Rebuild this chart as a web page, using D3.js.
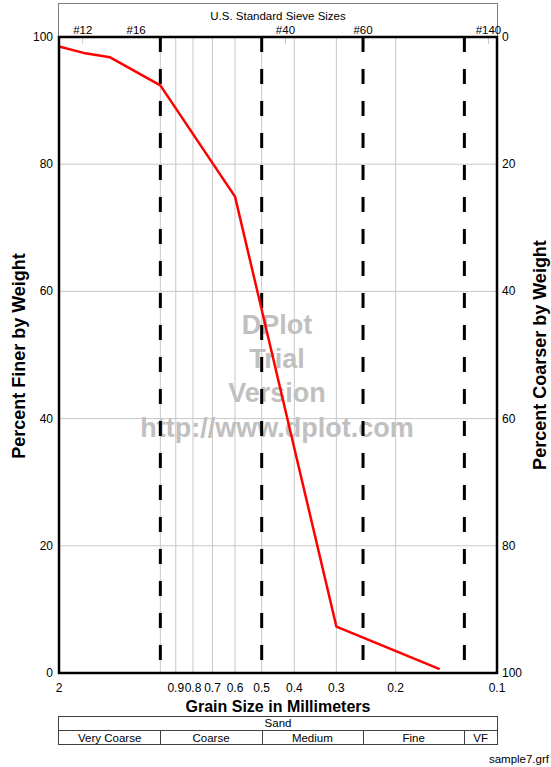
<!DOCTYPE html>
<html>
<head>
<meta charset="utf-8">
<script src="https://cdn.jsdelivr.net/npm/d3@7/dist/d3.min.js"></script>
<style>
  html, body { margin: 0; padding: 0; background: #fff; }
  svg text { font-family: "Liberation Sans", Arial, sans-serif; }
</style>
</head>
<body>
<svg id="chart" width="551" height="767"></svg>
<script>
// Grain size distribution: grain size (mm) vs percent finer by weight
const grainSize = [2.0, 1.69, 1.41, 1.0, 0.6, 0.3, 0.148];
const percentFiner = [98.5, 97.5, 96.8, 92.4, 74.9, 7.3, 0.6];

// Axis tick labels
const xTicks = [2, 0.9, 0.8, 0.7, 0.6, 0.5, 0.4, 0.3, 0.2, 0.1];
const xGrid = [1, 0.9, 0.8, 0.7, 0.6, 0.5, 0.4, 0.3, 0.2];
const yTicks = [0, 20, 40, 60, 80, 100];

// Sand class boundaries (dashed) and classes
const classBounds = [1, 0.5, 0.25, 0.125];
const sandClasses = ["Very Coarse", "Coarse", "Medium", "Fine", "VF"];
const classEdges = [2, 1, 0.5, 0.25, 0.125, 0.1];

// U.S. standard sieve numbers and openings (mm)
const sieveNames = ["#12", "#16", "#40", "#60", "#140"];
const sieveSizes = [1.70, 1.18, 0.425, 0.25, 0.106];
const sieveTickSizes = [1.70, 0.425, 0.106];

const svg = d3.select("#chart");
const L = 59, R = 497, T = 37, B = 673;

const x = d3.scaleLog().domain([2, 0.1]).range([L, R]);
const y = d3.scaleLinear().domain([0, 100]).range([B, T]);

// Sieve header box
svg.append("rect").attr("x", 58.5).attr("y", 3.5).attr("width", 439).attr("height", 34)
  .attr("fill", "none").attr("stroke", "#808080").attr("stroke-width", 1);
svg.append("text").attr("x", 278).attr("y", 20).attr("text-anchor", "middle")
  .attr("font-size", 11.5).attr("fill", "#000").text("U.S. Standard Sieve Sizes");
svg.append("g").selectAll("text").data(sieveNames).join("text")
  .attr("x", (d, i) => x(sieveSizes[i])).attr("y", 33.5).attr("text-anchor", "middle")
  .attr("font-size", 11.5).text(d => d);

// Gridlines
svg.append("g").selectAll("line").data(xGrid).join("line")
  .attr("x1", d => x(d)).attr("x2", d => x(d)).attr("y1", T).attr("y2", B)
  .attr("stroke", "#c8c8c8").attr("stroke-width", 1);
svg.append("g").selectAll("line").data(yTicks.slice(1, -1)).join("line")
  .attr("x1", L).attr("x2", R).attr("y1", d => y(d)).attr("y2", d => y(d))
  .attr("stroke", "#c8c8c8").attr("stroke-width", 1);
svg.append("g").selectAll("line").data(sieveTickSizes).join("line")
  .attr("x1", d => x(d)).attr("x2", d => x(d)).attr("y1", T).attr("y2", T + 7)
  .attr("stroke", "#c8c8c8").attr("stroke-width", 1);

// Watermark
const wm = ["DPlot", "Trial", "Version", "http://www.dplot.com"];
const wmY = [334, 368, 402, 437];
svg.append("g").selectAll("text").data(wm).join("text")
  .attr("x", 277).attr("y", (d, i) => wmY[i]).attr("text-anchor", "middle")
  .attr("font-size", 27).attr("font-weight", "bold").attr("fill", "#c0c0c0")
  .text(d => d);

// Sand class boundaries
svg.append("g").selectAll("line").data(classBounds).join("line")
  .attr("x1", d => x(d)).attr("x2", d => x(d)).attr("y1", T).attr("y2", B)
  .attr("stroke", "#000").attr("stroke-width", 3).attr("stroke-dasharray", "15,17");

// Gradation curve
const line = d3.line().x(d => x(d[0])).y(d => y(d[1]));
svg.append("path").datum(grainSize.map((g, i) => [g, percentFiner[i]]))
  .attr("d", line).attr("fill", "none").attr("stroke", "#ff0000")
  .attr("stroke-width", 2.5).attr("stroke-linejoin", "round");

// Plot frame
svg.append("rect").attr("x", L).attr("y", T).attr("width", R - L).attr("height", B - T)
  .attr("fill", "none").attr("stroke", "#000").attr("stroke-width", 2.5);

// X axis labels
svg.append("g").selectAll("text").data(xTicks).join("text")
  .attr("x", d => x(d)).attr("y", 692).attr("text-anchor", "middle")
  .attr("font-size", 12).text(d => String(d));

// Left Y axis labels
svg.append("g").selectAll("text").data(yTicks).join("text")
  .attr("x", 53).attr("y", d => y(d) + 4).attr("text-anchor", "end")
  .attr("font-size", 12).text(d => d);
// Right Y axis labels (percent coarser)
svg.append("g").selectAll("text").data(yTicks).join("text")
  .attr("x", 502).attr("y", d => y(d) + 4).attr("text-anchor", "start")
  .attr("font-size", 12).text(d => 100 - d);

// Axis titles
svg.append("text").attr("transform", "translate(24.5,356) rotate(-90)")
  .attr("text-anchor", "middle").attr("font-size", 18).attr("font-weight", "bold")
  .text("Percent Finer by Weight");
svg.append("text").attr("transform", "translate(545.5,355) rotate(-90)")
  .attr("text-anchor", "middle").attr("font-size", 18).attr("font-weight", "bold")
  .text("Percent Coarser by Weight");
svg.append("text").attr("x", 278).attr("y", 712).attr("text-anchor", "middle")
  .attr("font-size", 16).attr("font-weight", "bold").text("Grain Size in Millimeters");

// Sand classification table
const tb = svg.append("g").attr("fill", "none").attr("stroke", "#404040").attr("stroke-width", 1);
tb.append("rect").attr("x", 58.5).attr("y", 716.5).attr("width", 439).attr("height", 28);
tb.append("line").attr("x1", 58.5).attr("x2", 497.5).attr("y1", 730.5).attr("y2", 730.5);
tb.selectAll("line.div").data(classEdges.slice(1, -1)).join("line").attr("class", "div")
  .attr("x1", d => Math.round(x(d)) + 0.5).attr("x2", d => Math.round(x(d)) + 0.5)
  .attr("y1", 730.5).attr("y2", 744.5);
svg.append("text").attr("x", 278).attr("y", 727).attr("text-anchor", "middle")
  .attr("font-size", 11.5).text("Sand");
svg.append("g").selectAll("text").data(sandClasses).join("text")
  .attr("x", (d, i) => (x(classEdges[i]) + x(classEdges[i + 1])) / 2).attr("y", 742)
  .attr("text-anchor", "middle").attr("font-size", 11.5).text(d => d);

svg.append("text").attr("x", 549).attr("y", 763).attr("text-anchor", "end")
  .attr("font-size", 11.5).text("sample7.grf");
</script>
</body>
</html>
